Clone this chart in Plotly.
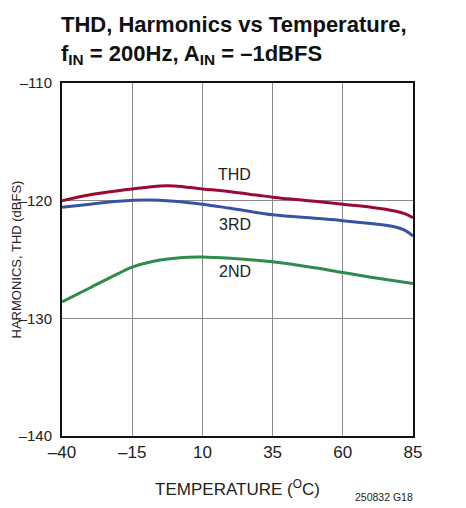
import plotly.graph_objects as go

temp_thd = [-40, -30, -20, -15, -5, 0, 10, 20, 35, 50, 60, 70, 78, 82, 85]
thd = [-120.0, -119.5, -119.15, -119.0, -118.75, -118.75, -119.0, -119.25, -119.7, -120.05, -120.3, -120.55, -120.85, -121.1, -121.45]

temp_3rd = [-40, -30, -20, -10, 0, 10, 20, 35, 50, 60, 70, 78, 82, 85]
third = [-120.57, -120.3, -120.05, -119.95, -120.05, -120.3, -120.65, -121.2, -121.5, -121.7, -121.95, -122.2, -122.5, -123.0]

temp_2nd = [-40, -30, -20, -15, -5, 5, 10, 20, 35, 50, 60, 70, 85]
second = [-128.6, -127.4, -126.2, -125.65, -125.05, -124.8, -124.78, -124.9, -125.2, -125.7, -126.1, -126.5, -127.05]

x_ticks = [-40, -15, 10, 35, 60, 85]
y_ticks = [-140, -130, -120, -110]

labels = ["THD", "3RD", "2ND"]
label_x = [21.5, 21.5, 21.5]
label_y = [-117.8, -122.0, -126.0]

FONT = "Liberation Sans, Arial, sans-serif"

fig = go.Figure()
fig.add_trace(go.Scatter(x=temp_thd, y=thd, mode="lines", line=dict(color="#9a0b34", width=3, shape="spline")))
fig.add_trace(go.Scatter(x=temp_3rd, y=third, mode="lines", line=dict(color="#3953a4", width=3, shape="spline")))
fig.add_trace(go.Scatter(x=temp_2nd, y=second, mode="lines", line=dict(color="#2e8b4b", width=3, shape="spline")))

for t, lx, ly in zip(labels, label_x, label_y):
    fig.add_annotation(x=lx, y=ly, text=t, showarrow=False, font=dict(family=FONT, size=16, color="#222"))

fig.add_annotation(xref="paper", yref="paper", x=0, y=0.5, xanchor="center", yanchor="middle", xshift=-46,
                   text="HARMONICS, THD (dBFS)", textangle=-90, showarrow=False, borderpad=0,
                   font=dict(family=FONT, size=13, color="#222"))
fig.add_annotation(xref="paper", yref="paper", x=1, y=0, yshift=-61, xshift=2, xanchor="right", yanchor="middle",
                   text="250832 G18", showarrow=False, font=dict(family=FONT, size=10.5, color="#222"))
fig.add_annotation(xref="paper", yref="paper", x=0, y=1, xanchor="left", yanchor="bottom", yshift=13, xshift=-3,
                   align="left", showarrow=False,
                   text="<b>THD, Harmonics vs Temperature,<br>f<sub>IN</sub> = 200Hz, A<sub>IN</sub> = –1dBFS</b>",
                   font=dict(family=FONT, size=22, color="#111"))

fig.update_layout(
    width=458, height=500,
    margin=dict(l=54, r=53, t=75, b=72, autoexpand=False),
    plot_bgcolor="white", paper_bgcolor="white",
    showlegend=False,
    xaxis=dict(range=[-40, 85], tickvals=x_ticks, ticktext=[str(v).replace("-", "–") for v in x_ticks],
               showgrid=True, gridcolor="#8a8a8a", gridwidth=1, zeroline=False,
               showline=True, linecolor="#111", linewidth=2, mirror=True, ticks="",
               tickfont=dict(family=FONT, size=17, color="#222"), automargin=False,
               title=dict(text="TEMPERATURE (<sup>O</sup>C)", font=dict(family=FONT, size=17, color="#222"), standoff=22)),
    yaxis=dict(range=[-140, -110], tickvals=y_ticks, ticktext=[str(v).replace("-", "–") for v in y_ticks],
               showgrid=True, gridcolor="#8a8a8a", gridwidth=1, zeroline=False,
               showline=True, linecolor="#111", linewidth=2, mirror=True, ticks="",
               ticklabelstandoff=5, automargin=False,
               tickfont=dict(family=FONT, size=15, color="#222")),
)

fig.write_html("out.html")
